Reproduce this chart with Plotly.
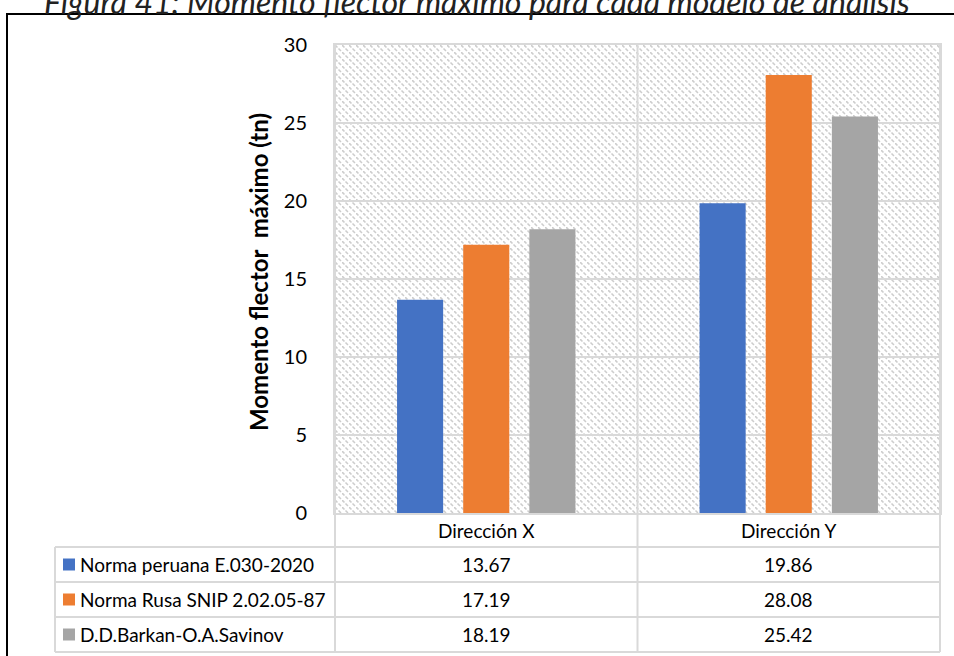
import base64
import plotly.graph_objects as go

# ---- data ----
categories = ["Dirección X", "Dirección Y"]
series_names = ["Norma peruana E.030-2020", "Norma Rusa SNIP 2.02.05-87", "D.D.Barkan-O.A.Savinov"]
norma_peruana = [13.67, 19.86]
norma_rusa = [17.19, 28.08]
barkan_savinov = [18.19, 25.42]
series_colors = ["#4472C4", "#ED7D31", "#A5A5A5"]
y_ticks = [0, 5, 10, 15, 20, 25, 30]
title_text = "Figura 41: Momento flector máximo para cada modelo de análisis"
y_title = "Momento flector  máximo (tn)"

series_values = [norma_peruana, norma_rusa, barkan_savinov]

W, H = 954, 656
PL, PR, PT, PB = 335, 940, 45, 513  # plot area in pixels
GRID = "#d9d9d9"
FONT = "Lato"
TXT = 19


def px(x):
    return (x - PL) / (PR - PL)


def py(y):
    return (PB - y) / (PB - PT)


# diagonal dashed hatch for the plot background
pw, ph = PR - PL, PB - PT
svg = (
    f'<svg xmlns="http://www.w3.org/2000/svg" width="{pw}" height="{ph}" '
    f'viewBox="0 0 {pw} {ph}" preserveAspectRatio="none">'
    '<defs><pattern id="h" width="7" height="7" patternUnits="userSpaceOnUse">'
    '<line x1="0" y1="0" x2="7" y2="7" stroke="#cdcdcd" stroke-width="1.6" '
    'stroke-dasharray="3.5,1.45"/></pattern></defs>'
    f'<rect width="{pw}" height="{ph}" fill="white"/>'
    f'<rect width="{pw}" height="{ph}" fill="url(#h)"/></svg>'
)
hatch_src = "data:image/svg+xml;base64," + base64.b64encode(svg.encode()).decode()

fig = go.Figure()
for name, vals, col in zip(series_names, series_values, series_colors):
    fig.add_trace(go.Bar(x=categories, y=vals, name=name, marker=dict(color=col, line=dict(width=0))))

fig.update_layout(
    width=W, height=H,
    margin=dict(l=PL, r=W - PR, t=PT, b=H - PB),
    paper_bgcolor="white",
    plot_bgcolor="rgba(0,0,0,0)",
    barmode="group",
    bargap=0.344,
    bargroupgap=0.303,
    showlegend=False,
    font=dict(family=FONT, color="#000"),
    xaxis=dict(range=[-0.5, 1.5], showticklabels=False, showgrid=False, zeroline=False,
               showline=True, linecolor=GRID, linewidth=2, mirror=True),
    yaxis=dict(range=[0, 30], tickvals=y_ticks, showgrid=True, gridcolor=GRID, gridwidth=2,
               zeroline=False, showline=True, linecolor=GRID, linewidth=2, mirror=True,
               ticks="", ticklabelstandoff=22, tickfont=dict(size=20, family=FONT)),
    images=[dict(source=hatch_src, xref="paper", yref="paper", x=0, y=1, sizex=1, sizey=1,
                 sizing="stretch", xanchor="left", yanchor="top", layer="below")],
)

shapes = []
# outer frame
shapes.append(dict(type="rect", xref="paper", yref="paper", x0=px(7), x1=px(965), y0=py(14), y1=py(670),
                   line=dict(color="#000", width=2), layer="above"))
# table grid
row_lines = [547, 582, 617, 652]
for y in row_lines:
    shapes.append(dict(type="line", xref="paper", yref="paper", x0=px(55), x1=px(PR), y0=py(y), y1=py(y),
                       line=dict(color=GRID, width=2)))
mid = (PL + PR) / 2
for x in [PL, mid, PR]:
    shapes.append(dict(type="line", xref="paper", yref="paper", x0=px(x), x1=px(x), y0=py(PT), y1=py(row_lines[-1]),
                       line=dict(color=GRID, width=2), layer="below"))
shapes.append(dict(type="line", xref="paper", yref="paper", x0=px(55), x1=px(55), y0=py(row_lines[0]),
                   y1=py(row_lines[-1]), line=dict(color=GRID, width=2)))

annotations = []
# title (runs off the top edge of the page)
annotations.append(dict(text=f"<i>{title_text}</i>", xref="paper", yref="paper", x=px(477), y=py(23),
                        showarrow=False, font=dict(size=32, family=FONT, color="#222"),
                        xanchor="center", yanchor="bottom"))
# y axis title
annotations.append(dict(text=f"<b>{y_title}</b>", xref="paper", yref="paper", x=px(258), y=py(272),
                        textangle=-90, showarrow=False, font=dict(size=24, family=FONT),
                        xanchor="center", yanchor="middle"))
# category header row
col_centers = [(PL + mid) / 2, (mid + PR) / 2]
for cx, cat in zip(col_centers, categories):
    annotations.append(dict(text=cat, xref="paper", yref="paper", x=px(cx), y=py((PB + row_lines[0]) / 2),
                            showarrow=False, font=dict(size=TXT, family=FONT), xanchor="center", yanchor="middle"))
# data rows with legend keys
for i, (name, vals, col) in enumerate(zip(series_names, series_values, series_colors)):
    yc = (row_lines[i] + row_lines[i + 1]) / 2
    shapes.append(dict(type="rect", xref="paper", yref="paper", x0=px(63), x1=px(75), y0=py(yc - 6), y1=py(yc + 6),
                       fillcolor=col, line=dict(width=0)))
    annotations.append(dict(text=name, xref="paper", yref="paper", x=px(78), y=py(yc), showarrow=False,
                            font=dict(size=TXT, family=FONT), xanchor="left", yanchor="middle"))
    for cx, v in zip(col_centers, vals):
        annotations.append(dict(text=f"{v:.2f}", xref="paper", yref="paper", x=px(cx), y=py(yc),
                                showarrow=False, font=dict(size=TXT, family=FONT), xanchor="center", yanchor="middle"))

fig.update_layout(shapes=shapes, annotations=annotations)
fig.write_html("out.html")
